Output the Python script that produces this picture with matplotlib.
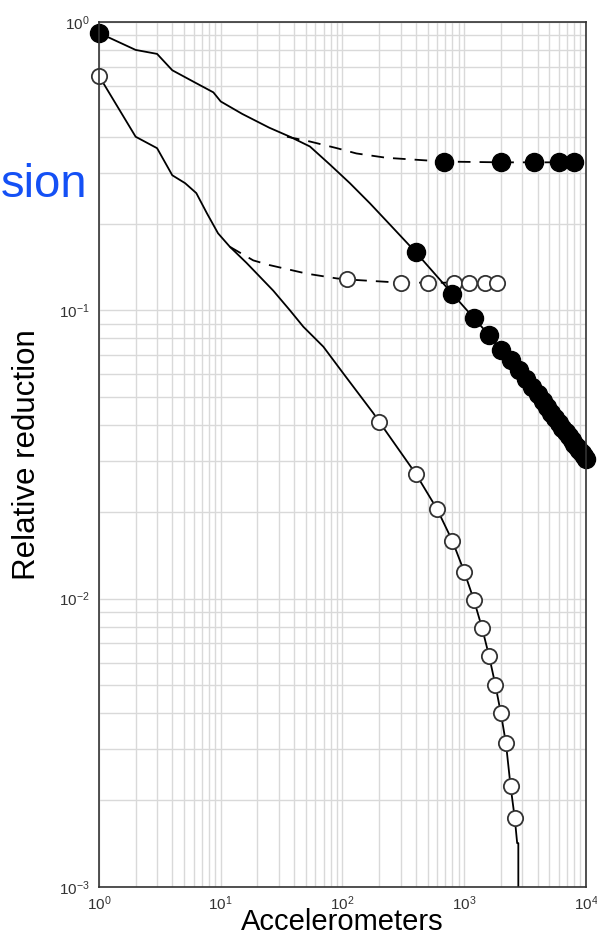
import numpy as np
import matplotlib
matplotlib.use('Agg')
from matplotlib import pyplot as plt

plt.rcParams['font.family'] = ['Liberation Sans', 'DejaVu Sans']

# upper solid curve (filled markers every 400 accelerometers)
top_x = [1, 2, 3, 4, 6, 8.7, 10, 15, 25, 37, 54, 79, 115, 168, 246]
top_y = [0.916, 0.80, 0.775, 0.68, 0.62, 0.57, 0.53, 0.48, 0.43, 0.40, 0.37, 0.32, 0.276, 0.235, 0.198]
top_mx = [400, 800, 1200, 1600, 2000, 2400, 2800, 3200, 3600, 4000, 4400, 4800, 5200,
          5600, 6000, 6400, 6800, 7200, 7600, 8000, 8400, 8800, 9200, 9600, 10000]
top_my = [0.159, 0.114, 0.094, 0.082, 0.0728, 0.0670, 0.0622, 0.0578, 0.0542, 0.0512, 0.0486,
          0.0462, 0.0441, 0.0423, 0.0407, 0.0392, 0.0379, 0.0366, 0.0355, 0.0345, 0.0336,
          0.0327, 0.0319, 0.0312, 0.0305]

# lower solid curve (open markers every 200 accelerometers)
low_x = [1, 2, 3, 4, 5.1, 6.3, 7.7, 9.5, 11.9, 16.3, 27, 37, 47.7, 69.6, 101.6, 179]
low_y = [0.65, 0.40, 0.365, 0.294, 0.276, 0.255, 0.217, 0.185, 0.166, 0.146, 0.117, 0.100,
         0.0877, 0.0748, 0.0604, 0.044]
low_mx = [200, 400, 600, 800, 1000, 1200, 1400, 1600, 1800, 2000, 2200, 2400, 2600]
low_my = [0.0411, 0.0271, 0.0204, 0.01584, 0.0124, 0.00989, 0.00792, 0.00632, 0.00503,
          0.0040, 0.00315, 0.00224, 0.00173]
low_tail_x = [2720, 2780, 2780]
low_tail_y = [0.00142, 0.00142, 0.0001]

# dashed branches
dtop_x = [35, 54, 90, 130, 230, 680, 2000, 3750, 6000, 8000, 10000]
dtop_y = [0.40, 0.385, 0.365, 0.35, 0.338, 0.328, 0.326, 0.326, 0.326, 0.326, 0.326]
dtop_mx = [680, 2000, 3750, 6000, 8000]
dlow_x = [11.9, 18.5, 25, 51, 90, 108, 300, 500, 820, 1100, 1480, 1850]
dlow_y = [0.166, 0.149, 0.1436, 0.134, 0.129, 0.128, 0.1247, 0.1247, 0.1247, 0.1247, 0.1247, 0.1247]
dlow_mx = [108, 300, 500, 820, 1100, 1480, 1850]

fig = plt.figure(figsize=(5.97, 9.35), dpi=100)
ax = fig.add_axes([0.1658, 0.0513, 0.8158, 0.9252])
ax.set_xscale('log')
ax.set_yscale('log')
ax.set_xlim(1, 1e4)
ax.set_ylim(1e-3, 1)
ax.grid(True, which='both', color='#d9d9d9', linewidth=1.0)
ax.set_axisbelow(True)
for s in ax.spines.values():
    s.set_color('#333333')
    s.set_linewidth(1.2)

lw = 1.3
dash = (0, (7, 5))
ax.plot(dtop_x, dtop_y, color='black', lw=lw, linestyle=dash)
ax.plot(dlow_x, dlow_y, color='black', lw=lw, linestyle=dash)
ax.plot(top_x + top_mx, top_y + top_my, color='black', lw=lw)
ax.plot([low_mx[-1]] + low_tail_x, [low_my[-1]] + low_tail_y, color='black', lw=lw)
ax.plot(low_x + low_mx, low_y + low_my, color='black', lw=lw)

ax.plot(dtop_mx, [dtop_y[dtop_x.index(v)] for v in dtop_mx], 'o', color='black', ms=13, clip_on=False)
ax.plot(dlow_mx, [dlow_y[dlow_x.index(v)] for v in dlow_mx], 'o', mfc='white', mec='#333333',
        mew=1.3, ms=11, clip_on=False)
ax.plot([1] + top_mx, [top_y[0]] + top_my, 'o', color='black', ms=13, clip_on=False)
ax.plot([1] + low_mx, [low_y[0]] + low_my, 'o', mfc='white', mec='#333333', mew=1.3, ms=11,
        clip_on=False)

ax.tick_params(which='both', length=0, labelsize=11, labelcolor='#333333', pad=5)
ax.tick_params(axis='y', pad=7)
ax.set_xlabel('Accelerometers', fontsize=21, labelpad=-3)
ax.set_ylabel('Relative reduction', fontsize=22.5, labelpad=12)

fig.text(1 / 597, 1 - 185 / 935, 'sion', color='#1450f5', fontsize=34, ha='left', va='center')

fig.savefig('out.png', dpi=100)
